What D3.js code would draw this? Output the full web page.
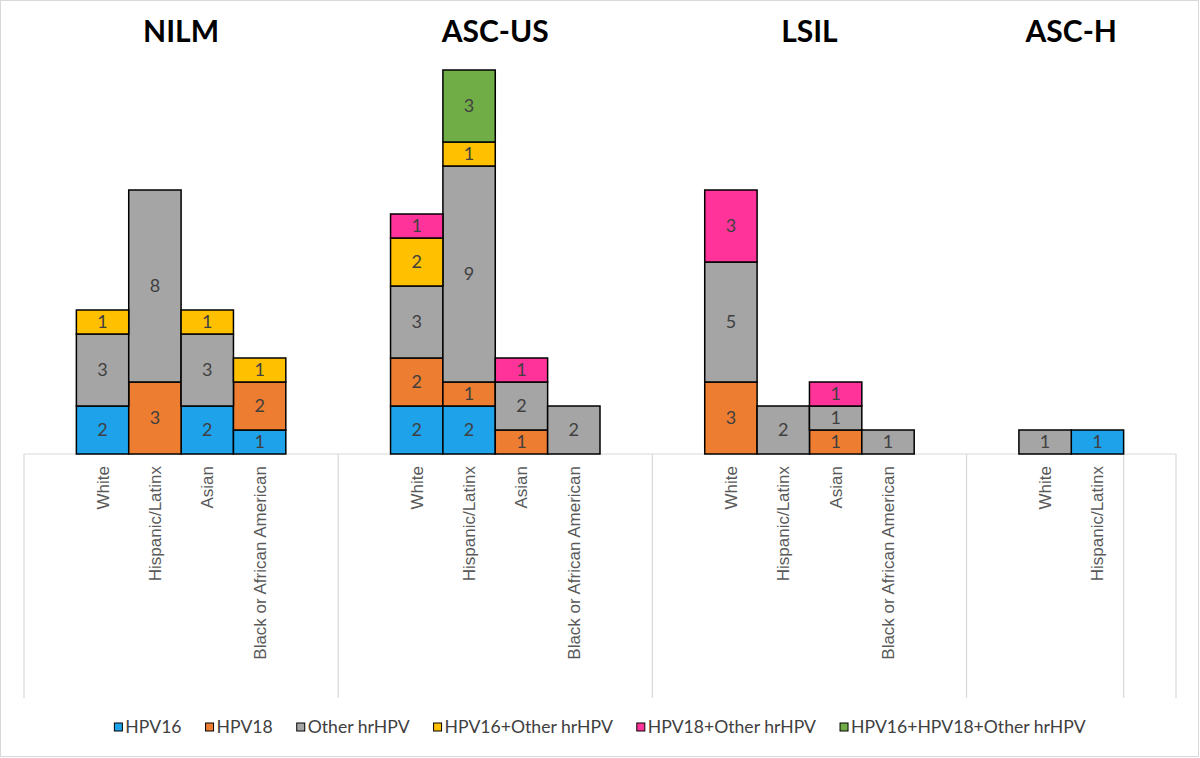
<!DOCTYPE html>
<html>
<head>
<meta charset="utf-8">
<script src="https://cdn.jsdelivr.net/npm/d3@7"></script>
<style>
  body { margin: 0; background: #fff; }
  svg { display: block; font-family: Lato, "Open Sans", sans-serif; }
  .cat { font-family: Arial, "Liberation Sans", sans-serif; }
</style>
</head>
<body>
<div id="chart"></div>
<script>
// groups (cytology result) and the race categories shown under each
const groups = ["NILM", "ASC-US", "LSIL", "ASC-H"];
const groupRaces = [
  ["White", "Hispanic/Latinx", "Asian", "Black or African American"],
  ["White", "Hispanic/Latinx", "Asian", "Black or African American"],
  ["White", "Hispanic/Latinx", "Asian", "Black or African American"],
  ["White", "Hispanic/Latinx"]
];
const seriesNames = ["HPV16", "HPV18", "Other hrHPV", "HPV16+Other hrHPV", "HPV18+Other hrHPV", "HPV16+HPV18+Other hrHPV"];
const seriesColors = ["#1EA2EA", "#ED7D31", "#A5A5A5", "#FFC000", "#FF3399", "#70AD47"];

// values in bar order: NILM W,H,A,B | ASC-US W,H,A,B | LSIL W,H,A,B | ASC-H W,H
const hpv16        = [2, 0, 2, 1,  2, 2, 0, 0,  0, 0, 0, 0,  0, 1];
const hpv18        = [0, 3, 0, 2,  2, 1, 1, 0,  3, 0, 1, 0,  0, 0];
const otherHr      = [3, 8, 3, 0,  3, 9, 2, 2,  5, 2, 1, 1,  1, 0];
const hpv16Other   = [1, 0, 1, 1,  2, 1, 0, 0,  0, 0, 0, 0,  0, 0];
const hpv18Other   = [0, 0, 0, 0,  1, 0, 1, 0,  3, 0, 1, 0,  0, 0];
const hpv16_18Other= [0, 0, 0, 0,  0, 3, 0, 0,  0, 0, 0, 0,  0, 0];
const seriesValues = [hpv16, hpv18, otherHr, hpv16Other, hpv18Other, hpv16_18Other];

const W = 1200, H = 758;
const svg = d3.select("#chart").append("svg")
  .attr("width", W).attr("height", H)
  .attr("viewBox", [0, 0, W, H]);

svg.append("rect")
  .attr("x", 0.5).attr("y", 0.5).attr("width", W - 2).attr("height", H - 2)
  .attr("fill", "#fff").attr("stroke", "#D9D9D9");

// build bar rows and slot list (a blank slot before each group, one after the first three)
const rows = [];
const slots = [];
const groupEdges = [];
let k = 0;
groups.forEach((g, gi) => {
  groupEdges.push(slots.length);
  slots.push(g + "|pre");
  groupRaces[gi].forEach(r => {
    const row = {key: g + "|" + r, group: g, race: r};
    seriesNames.forEach((s, si) => row[s] = seriesValues[si][k]);
    rows.push(row);
    slots.push(row.key);
    k++;
  });
  if (gi < groups.length - 1) slots.push(g + "|post");
});
groupEdges.push(slots.length);
slots.push("end|blank");
groupEdges.push(slots.length);

const x = d3.scaleBand().domain(slots).range([24, 1176]).padding(0);
const y = d3.scaleLinear().domain([0, 16]).range([454, 70]);

const edgeX = i => i < slots.length ? x(slots[i]) : x.range()[1];

// axis lines
const axisG = svg.append("g").attr("stroke", "#D9D9D9").attr("stroke-width", 1.2);
axisG.append("line").attr("x1", 24).attr("x2", 1176).attr("y1", y(0)).attr("y2", y(0));
groupEdges.forEach(i => {
  axisG.append("line").attr("x1", edgeX(i)).attr("x2", edgeX(i)).attr("y1", y(0)).attr("y2", 698);
});

// stacked bars
const stacked = d3.stack().keys(seriesNames)(rows);
const layers = svg.selectAll("g.layer").data(stacked).enter().append("g")
  .attr("class", "layer")
  .attr("fill", (d, i) => seriesColors[i]);

layers.selectAll("rect").data(d => d.filter(p => p[1] - p[0] > 0)).enter().append("rect")
  .attr("x", d => x(d.data.key))
  .attr("width", x.bandwidth())
  .attr("y", d => y(d[1]))
  .attr("height", d => y(d[0]) - y(d[1]))
  .attr("stroke", "#000").attr("stroke-width", 1.5);

layers.selectAll("text").data(d => d.filter(p => p[1] - p[0] > 0)).enter().append("text")
  .attr("x", d => x(d.data.key) + x.bandwidth() / 2)
  .attr("y", d => (y(d[0]) + y(d[1])) / 2)
  .attr("dy", "0.36em")
  .attr("text-anchor", "middle")
  .attr("font-size", 18)
  .attr("fill", "#404040")
  .text(d => d[1] - d[0]);

// category labels
svg.append("g").selectAll("text").data(rows).enter().append("text")
  .attr("class", "cat")
  .attr("transform", d => `translate(${x(d.key) + x.bandwidth() / 2 + 6},${y(0) + 12}) rotate(-90)`)
  .attr("text-anchor", "end")
  .attr("font-size", 17)
  .attr("fill", "#595959")
  .text(d => d.race);

// group titles
svg.append("g").selectAll("text").data(groups).enter().append("text")
  .attr("x", (g, gi) => {
    const first = x(g + "|" + groupRaces[gi][0]);
    const last = x(g + "|" + groupRaces[gi][groupRaces[gi].length - 1]) + x.bandwidth();
    return (first + last) / 2;
  })
  .attr("y", 42)
  .attr("text-anchor", "middle")
  .attr("font-size", 30)
  .attr("font-weight", "bold")
  .attr("fill", "#000")
  .text(g => g);

// legend
const legend = svg.append("g");
const items = legend.selectAll("g").data(seriesNames).enter().append("g");
items.append("rect")
  .attr("width", 8).attr("height", 8).attr("y", 723)
  .attr("fill", (d, i) => seriesColors[i])
  .attr("stroke", "#000").attr("stroke-width", 1);
items.append("text")
  .attr("x", 11).attr("y", 727).attr("dy", "0.36em")
  .attr("font-size", 17.6).attr("fill", "#404040")
  .text(d => d);
let cx = 0;
const widths = [];
items.each(function () {
  const w = 11 + this.querySelector("text").getComputedTextLength();
  widths.push(w);
});
const gap = 24;
const total = d3.sum(widths) + gap * (widths.length - 1);
cx = (W - total) / 2;
items.attr("transform", (d, i) => {
  const t = `translate(${cx},0)`;
  cx += widths[i] + gap;
  return t;
});
</script>
</body>
</html>
